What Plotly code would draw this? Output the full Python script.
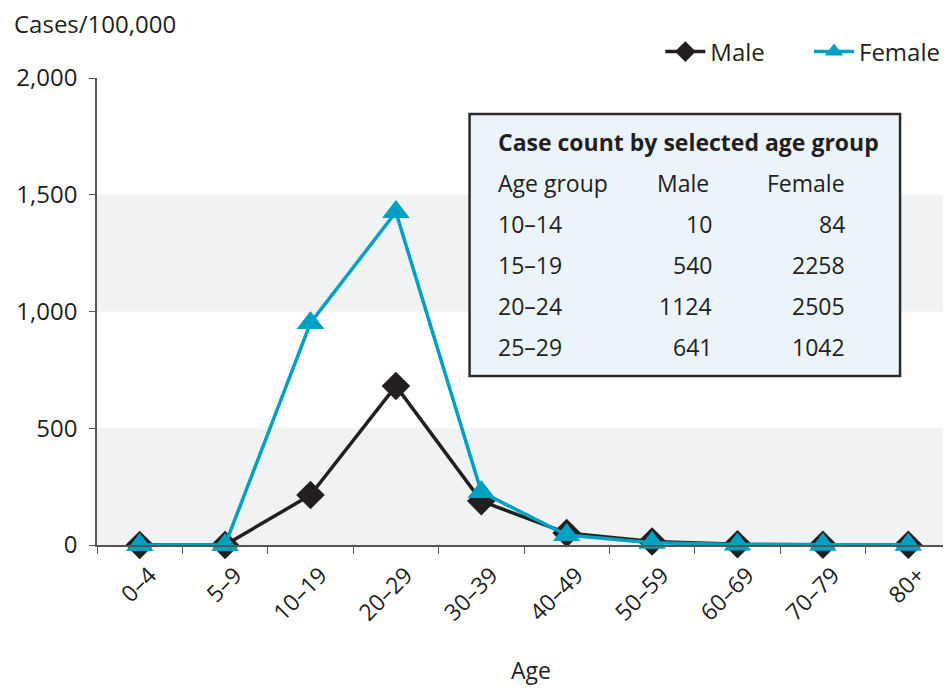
import plotly.graph_objects as go

ages = ["0–4", "5–9", "10–19", "20–29", "30–39", "40–49", "50–59", "60–69", "70–79", "80+"]
male = [0, 0, 214, 681, 188, 51, 15, 3, 1, 1]
female = [0, 0, 951, 1426, 227, 43, 10, 2, 1, 1]

table_title = "Case count by selected age group"
table_header = ["Age group", "Male", "Female"]
table_groups = ["10–14", "15–19", "20–24", "25–29"]
table_male = [10, 540, 1124, 641]
table_female = [84, 2258, 2505, 1042]

y_ticks = [0, 500, 1000, 1500, 2000]
bands = [(0, 500), (1000, 1500)]

FONT = "Open Sans, Noto Sans, sans-serif"
FS = 23
BLACK = "#231f20"
BLUE = "#00a0c1"

fig = go.Figure()
fig.add_trace(go.Scatter(
    x=ages, y=male, name="Male", mode="lines+markers",
    line=dict(color=BLACK, width=3.5),
    marker=dict(symbol="diamond", size=22, color=BLACK),
    cliponaxis=False, legend="legend",
))
fig.add_trace(go.Scatter(
    x=ages, y=female, name="Female", mode="lines+markers",
    line=dict(color=BLUE, width=3.5),
    marker=dict(symbol="triangle-up", size=24, color=BLUE),
    cliponaxis=False, legend="legend2",
))

for lo, hi in bands:
    fig.add_shape(type="rect", xref="paper", yref="y", x0=0, x1=1, y0=lo, y1=hi,
                  fillcolor="#f1f2f4", line=dict(width=0), layer="below")

# screen-pixel helpers (plot area: x 97..952, y 78..545 on screen)
def px_x(px):
    return (px - 97) / 855

def px_y(py):
    return (545 - py) / 467

fig.add_shape(type="rect", xref="paper", yref="paper",
              x0=px_x(470), x1=px_x(901), y0=px_y(376), y1=px_y(114),
              fillcolor="#ebf4fb", line=dict(color="#2b2b2b", width=2.5), layer="above")

ann = []
ann.append(dict(text="<b>" + table_title + "</b>", x=px_x(496), y=px_y(142),
                xanchor="left", yanchor="middle", font=dict(size=FS, color=BLACK)))
rows_y = [183, 224, 265, 306, 347]
ann.append(dict(text=table_header[0], x=px_x(496), y=px_y(rows_y[0]), xanchor="left"))
ann.append(dict(text=table_header[1], x=px_x(712), y=px_y(rows_y[0]), xanchor="right"))
ann.append(dict(text=table_header[2], x=px_x(848), y=px_y(rows_y[0]), xanchor="right"))
for i, g in enumerate(table_groups):
    yy = px_y(rows_y[i + 1])
    ann.append(dict(text=g, x=px_x(496), y=yy, xanchor="left"))
    ann.append(dict(text=str(table_male[i]), x=px_x(715), y=yy, xanchor="right"))
    ann.append(dict(text=str(table_female[i]), x=px_x(848), y=yy, xanchor="right"))

for a in ann:
    a.setdefault("font", dict(size=FS, color=BLACK))
    a.update(xref="paper", yref="paper", showarrow=False)
    a.setdefault("yanchor", "middle")

ann.append(dict(text="Cases/100,000", x=px_x(12), y=px_y(23), xref="paper", yref="paper",
                xanchor="left", yanchor="middle", showarrow=False,
                font=dict(size=24, color=BLACK)))
ann.append(dict(text="Age", x=px_x(532), y=px_y(670), xref="paper", yref="paper",
                xanchor="center", yanchor="middle", showarrow=False,
                font=dict(size=FS, color=BLACK)))

fig.update_layout(
    width=943, height=678,
    margin=dict(l=89, r=0, t=70, b=141, autoexpand=False),
    paper_bgcolor="white", plot_bgcolor="white",
    font=dict(family=FONT, size=FS, color=BLACK),
    showlegend=True,
    legend=dict(orientation="h", x=px_x(661), xanchor="left", y=px_y(52), yanchor="middle",
                font=dict(size=24), bgcolor="rgba(0,0,0,0)", itemwidth=40),
    legend2=dict(orientation="h", x=px_x(946), xanchor="right", y=px_y(52), yanchor="middle",
                 font=dict(size=24), bgcolor="rgba(0,0,0,0)", itemwidth=40),
    annotations=ann,
    xaxis=dict(
        type="category", range=[-0.5, 9.5], tickangle=-45,
        showline=True, linecolor="#555555", linewidth=1.5,
        ticks="outside", ticklen=7, tickcolor="#555555", tickson="boundaries",
        showgrid=False, zeroline=False, ticklabelshift=10, ticklabelstandoff=6,
    ),
    yaxis=dict(
        range=[0, 2000], tickvals=y_ticks, tickformat=",",
        showline=True, linecolor="#555555", linewidth=1.5,
        ticks="outside", ticklen=6, tickcolor="#555555",
        showgrid=False, zeroline=False, ticklabelstandoff=7,
        tickfont=dict(size=24),
    ),
)

fig.write_html("out.html")
